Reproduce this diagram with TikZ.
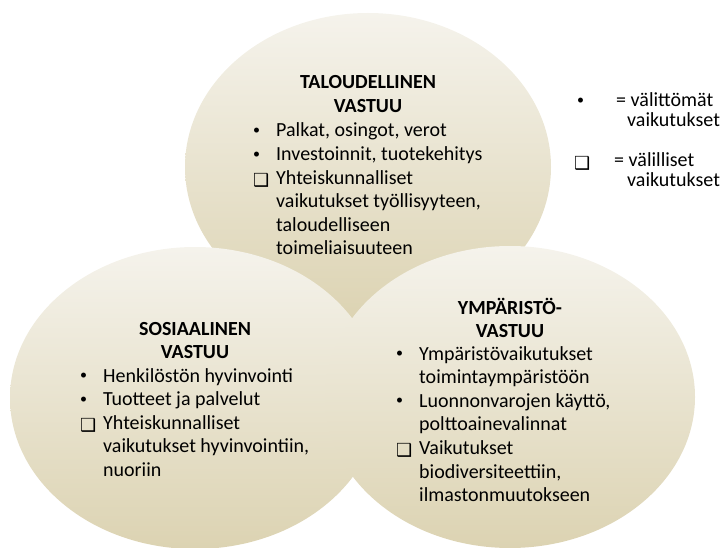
\documentclass[tikz,border=0pt]{standalone}
\usepackage{fontspec}
\setmainfont{Carlito}
\newfontfamily\symfont{DejaVu Sans}
\usepackage{tikz}
\usetikzlibrary{shapes.geometric}
\definecolor{ovaltop}{HTML}{F5F3EC}
\definecolor{ovalbottom}{HTML}{DCD3B2}
\newcommand{\chkbox}{\raisebox{-2.5pt}{\symfont\fontsize{18}{18}\selectfont ❑}}
\newcommand{\blt}{\raisebox{2.5pt}{\fontsize{14}{14}\selectfont\textbullet}}

\begin{document}
\begin{tikzpicture}[x=1pt, y=-1pt,
    oval/.style={ellipse, inner sep=0pt, draw=none,
                 top color=ovaltop, bottom color=ovalbottom},
    head/.style={anchor=base, inner sep=0pt,
                 font=\fontsize{20}{23.6}\selectfont\bfseries},
    items/.style={anchor=base west, inner sep=0pt,
                  font=\fontsize{20}{23.6}\selectfont},
    keytext/.style={anchor=base west, inner sep=0pt,
                    font=\fontsize{20}{20}\selectfont},
]
    \useasboundingbox (0,0) rectangle (720,548);
    \node[oval, minimum width=366pt, minimum height=308pt] (talous) at (368,167) {};
    \node[oval, minimum width=370pt, minimum height=302pt] (sosiaali) at (195,398) {};
    \node[oval, minimum width=370pt, minimum height=302pt] (ymparisto) at (510,397) {};

    % taloudellinen vastuu
    \node[head] (taloushead) at (368,89)
        {\begin{tabular}[t]{@{}c@{}}TALOUDELLINEN\\VASTUU\end{tabular}};
    \node[items] (talouslist) at (253,137)
        {\begin{tabular}[t]{@{}p{23pt}@{}l@{}}
            \blt & Palkat, osingot, verot\\
            \blt & Investoinnit, tuotekehitys\\
            \chkbox & Yhteiskunnalliset\\
                    & vaikutukset työllisyyteen,\\
                    & taloudelliseen\\
                    & toimeliaisuuteen
        \end{tabular}};

    % sosiaalinen vastuu
    \node[head] (sosiaalihead) at (195,335)
        {\begin{tabular}[t]{@{}c@{}}SOSIAALINEN\\VASTUU\end{tabular}};
    \node[items] (sosiaalilist) at (80,382)
        {\begin{tabular}[t]{@{}p{23pt}@{}l@{}}
            \blt & Henkilöstön hyvinvointi\\
            \blt & Tuotteet ja palvelut\\
            \chkbox & Yhteiskunnalliset\\
                    & vaikutukset hyvinvointiin,\\
                    & nuoriin
        \end{tabular}};

    % ympäristövastuu
    \node[head] (ymparistohead) at (510,314)
        {\begin{tabular}[t]{@{}c@{}}YMPÄRISTÖ-\\VASTUU\end{tabular}};
    \node[items] (ymparistolist) at (396,360)
        {\begin{tabular}[t]{@{}p{23pt}@{}l@{}}
            \blt & Ympäristövaikutukset\\
                 & toimintaympäristöön\\
            \blt & Luonnonvarojen käyttö,\\
                 & polttoainevalinnat\\
            \chkbox & Vaikutukset\\
                    & biodiversiteettiin,\\
                    & ilmastonmuutokseen
        \end{tabular}};

    % selitteet
    \node[keytext] (bulletkey) at (577,107) {\blt};
    \node[keytext] (directkey) at (616,107) {= välittömät};
    \node[keytext] (directkey2) at (627,127) {vaikutukset};
    \node[keytext] (boxkey) at (574,167) {\chkbox};
    \node[keytext] (indirectkey) at (614,167) {= välilliset};
    \node[keytext] (indirectkey2) at (627,187) {vaikutukset};
\end{tikzpicture}
\end{document}
